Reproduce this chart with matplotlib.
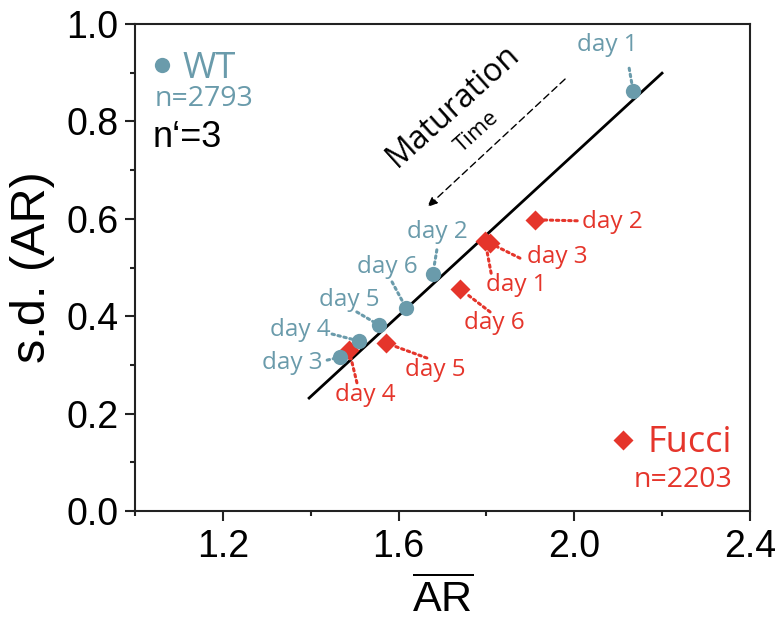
import matplotlib
matplotlib.use('Agg')
import matplotlib.pyplot as plt

plt.rcParams['mathtext.fontset'] = 'custom'
plt.rcParams['mathtext.rm'] = 'Liberation Sans'
plt.rcParams['mathtext.it'] = 'Liberation Sans:italic'

# WT (circles)
wt_days = ['day 1', 'day 2', 'day 3', 'day 4', 'day 5', 'day 6']
wt_x = [2.134, 1.678, 1.467, 1.510, 1.555, 1.617]
wt_y = [0.862, 0.487, 0.316, 0.349, 0.382, 0.417]

# Fucci (diamonds)
fu_days = ['day 1', 'day 2', 'day 3', 'day 4', 'day 5', 'day 6']
fu_x = [1.797, 1.911, 1.808, 1.487, 1.571, 1.740]
fu_y = [0.554, 0.598, 0.550, 0.331, 0.345, 0.456]

# fit line
line_x = [1.394, 2.202]
line_y = [0.230, 0.901]

# time arrow (start -> end)
arrow_start = (1.979, 0.887)
arrow_end = (1.665, 0.624)

xticks = [1.2, 1.6, 2.0, 2.4]
yticks = [0.0, 0.2, 0.4, 0.6, 0.8, 1.0]

BLUE = '#6a9bab'
RED = '#e5352b'
LABEL_FONT = 'Open Sans'
PX = 0.72  # pixels -> points at dpi 100

# label offsets in pixels: (text dx, text dy, line start dx, line start dy)
wt_offsets = [(-26, 46, -4, 23), (5, 42, 4, 24), (-48, -6, -13, -3),
              (-59, 11, -27, 7), (-30, 25, -22, 13), (-19, 41, -14, 26)]
fu_offsets = [(31, -44, 6, -32), (77, -2, 42, -1), (67, -14, 30, -15),
              (16, -45, 8, -33), (49, -27, 41, -15), (34, -34, 30, -23)]

fig = plt.figure(figsize=(7.79, 6.24), dpi=100)
ax = fig.add_axes([0.1733, 0.1811, 0.7895, 0.7804])

ax.plot(line_x, line_y, color='black', lw=2.0, solid_capstyle='butt', zorder=2)
ax.annotate('', xy=arrow_end, xytext=arrow_start,
            arrowprops=dict(arrowstyle='-|>,head_length=0.6,head_width=0.25',
                            color='black', lw=1.0, ls=(0, (5, 3)),
                            shrinkA=0, shrinkB=0), zorder=2)

ax.plot(fu_x, fu_y, 'D', color=RED, ms=10.5, mec='none', zorder=3)
ax.plot(wt_x, wt_y, 'o', color=BLUE, ms=11, mec='none', zorder=4)


def add_labels(xs, ys, names, offsets, color, shrink):
    for x, y, name, (tx, ty, lx, ly) in zip(xs, ys, names, offsets):
        ax.annotate('', xy=(x, y), xytext=(lx * PX, ly * PX), textcoords='offset points',
                    arrowprops=dict(arrowstyle='-', color=color, lw=2.2, ls=(0, (0.8, 1.2)),
                                    shrinkA=0, shrinkB=shrink))
        ax.annotate(name, xy=(x, y), xytext=(tx * PX, ty * PX), textcoords='offset points',
                    ha='center', va='center', color=color, fontsize=17.5,
                    family=LABEL_FONT)


add_labels(wt_x, wt_y, wt_days, wt_offsets, BLUE, 5)
add_labels(fu_x, fu_y, fu_days, fu_offsets, RED, 6)

ax.text(1.725, 0.832, 'Maturation', rotation=42, ha='center', va='center',
        fontsize=23, family=LABEL_FONT, rotation_mode='anchor')
ax.text(1.778, 0.778, 'Time', rotation=42, ha='center', va='center',
        fontsize=16, family=LABEL_FONT, rotation_mode='anchor')

# legend-like annotations
ax.plot([0.044], [0.916], 'o', color=BLUE, ms=11, mec='none', transform=ax.transAxes, clip_on=False)
ax.text(0.0764, 0.908, 'WT', color=BLUE, fontsize=26, family=LABEL_FONT,
        ha='left', va='center', transform=ax.transAxes)
ax.text(0.0325, 0.846, 'n=2793', color=BLUE, fontsize=20.5, family=LABEL_FONT,
        ha='left', va='center', transform=ax.transAxes)
ax.text(0.029, 0.768, 'n\u2018=3', color='black', fontsize=26, family='Liberation Sans',
        ha='left', va='center', transform=ax.transAxes)

ax.plot([0.793], [0.146], 'D', color=RED, ms=10.5, mec='none', transform=ax.transAxes, clip_on=False)
ax.text(0.971, 0.140, 'Fucci', color=RED, fontsize=26, family=LABEL_FONT,
        ha='right', va='center', transform=ax.transAxes)
ax.text(0.971, 0.064, 'n=2203', color=RED, fontsize=20.5, family=LABEL_FONT,
        ha='right', va='center', transform=ax.transAxes)

ax.set_xlim(1.0, 2.4)
ax.set_ylim(0.0, 1.0)
ax.set_xticks(xticks)
ax.set_xticklabels([f'{v:.1f}' for v in xticks])
ax.set_yticks(yticks)
ax.set_yticklabels([f'{v:.1f}' for v in yticks])
ax.set_xticks([1.0, 1.4, 1.8, 2.2], minor=True)
ax.set_yticks([0.1, 0.3, 0.5, 0.7, 0.9], minor=True)

for s in ax.spines.values():
    s.set_linewidth(1.5)
    s.set_color('#222222')
ax.tick_params(which='major', direction='out', length=7, width=1.5, labelsize=27,
               color='#222222')
ax.tick_params(which='minor', direction='out', length=3.5, width=1.5, color='#222222')
ax.tick_params(axis='x', which='major', pad=6)
ax.tick_params(axis='y', which='major', pad=5)
for lab in ax.get_xticklabels() + ax.get_yticklabels():
    lab.set_family('Liberation Sans')

ax.set_ylabel('s.d. (AR)', fontsize=35, family='Liberation Sans', labelpad=8)
ax.set_xlabel(r'$\overline{\mathrm{AR}}$', fontsize=31, labelpad=9)

fig.savefig('out.png', dpi=100)
